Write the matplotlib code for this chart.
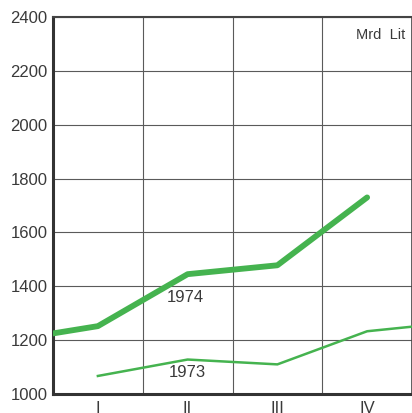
import matplotlib
matplotlib.use("Agg")
import matplotlib.pyplot as plt

quarters = ["I", "II", "III", "IV"]
tick_pos = [0.5, 1.5, 2.5, 3.5]

x_1974 = [0, 0.5, 1.5, 2.5, 3.5]
y_1974 = [1225, 1252, 1445, 1478, 1730]

x_1973 = [0.5, 1.5, 2.5, 3.5, 4.0]
y_1973 = [1067, 1128, 1110, 1233, 1250]

yticks = [1000, 1200, 1400, 1600, 1800, 2000, 2200, 2400]

green = "#45b34f"
txt = "#3a3a3a"

plt.rcParams['font.family'] = ['Liberation Sans', 'DejaVu Sans']


def main():
    fig = plt.figure(figsize=(4.12, 4.13), dpi=100)
    ax = fig.add_axes([53 / 412, (413 - 394) / 413, 359 / 412, 377 / 413])

    ax.plot(x_1974, y_1974, color=green, lw=4.2, solid_capstyle="round", zorder=3)
    ax.plot(x_1973, y_1973, color=green, lw=1.8, zorder=3)

    ax.text(1.47, 1360, "1974", color=txt, fontsize=12, ha="center", va="center")
    ax.text(1.5, 1080, "1973", color=txt, fontsize=12, ha="center", va="center")
    ax.text(3.92, 2335, "Mrd  Lit", color=txt, fontsize=10.5, ha="right", va="center")

    ax.set_xlim(0, 4)
    ax.set_ylim(1000, 2400)
    ax.set_yticks(yticks)
    ax.set_xticks([1, 2, 3], minor=False)
    ax.set_xticks(tick_pos, minor=True)
    ax.set_xticklabels([])
    ax.set_xticklabels(quarters, minor=True)
    ax.tick_params(axis="both", which="both", length=0, labelsize=12, labelcolor=txt)
    ax.tick_params(axis="y", pad=4)
    ax.tick_params(axis="x", which="minor", pad=5)

    ax.grid(True, which="major", color="#5a5a5a", lw=0.8)
    ax.set_axisbelow(True)
    for side in ["left", "bottom"]:
        ax.spines[side].set_linewidth(2.2)
        ax.spines[side].set_color("#333333")
    ax.spines["top"].set_linewidth(1.5)
    ax.spines["top"].set_color("#444444")
    ax.spines["right"].set_linewidth(1.2)
    ax.spines["right"].set_color("#444444")

    fig.savefig("out.png", dpi=100)


if __name__ == '__main__':
    main()
